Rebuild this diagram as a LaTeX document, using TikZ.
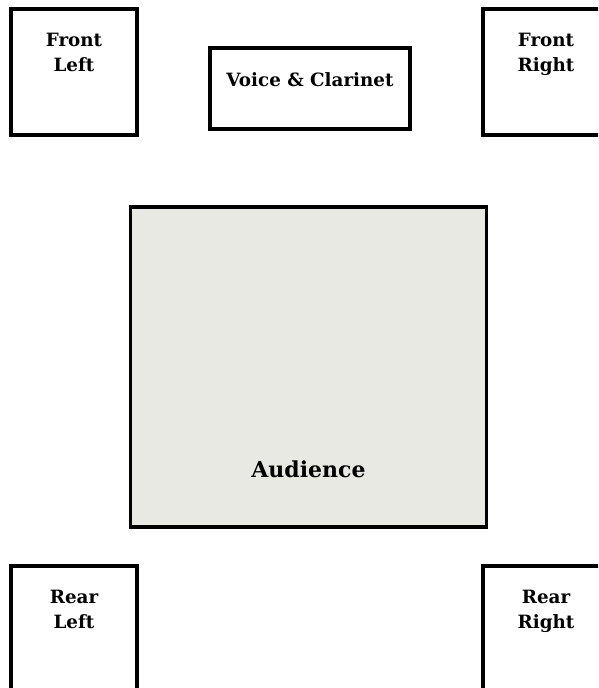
\documentclass[tikz,border=0pt]{standalone}
\usepackage{fontspec}
\setmainfont{DejaVu Serif}
\usepackage{xcolor}
\usepackage{tikz}
\usetikzlibrary{positioning}
\definecolor{audiencegray}{RGB}{233,233,228}

\begin{document}
\begin{tikzpicture}[x=1pt, y=-1pt,
        box/.style={draw, line width=3.4pt, inner sep=0pt},
        spk/.style={box, minimum width=126pt, minimum height=126pt},
        txt/.style={font=\bfseries\fontsize{18.3}{25}\selectfont, align=center, inner sep=0pt}]
        \clip (0,0) rectangle (598,688);

        % Lautsprecher vorne
        \node[spk] (fl) at (74,72) {};
        \node[txt, below=26pt of fl.north] (fltxt) {Front\\Left};
        \node[spk] (fr) at (546,72) {};
        \node[txt, below=26pt of fr.north] (frtxt) {Front\\Right};

        % Musiker
        \node[box, minimum width=200pt, minimum height=81pt] (vc) at (310,88.5) {};
        \node[txt, below=26pt of vc.north] (vctxt) {Voice \& Clarinet};

        % Publikum
        \node[box, fill=audiencegray, minimum width=356pt, minimum height=320pt] (aud) at (308.5,367) {};
        \node[txt, font=\bfseries\fontsize{22}{26}\selectfont, above=51pt of aud.south] (audtxt) {Audience};

        % Lautsprecher hinten
        \node[spk] (rl) at (74,629) {};
        \node[txt, below=26pt of rl.north] (rltxt) {Rear\\Left};
        \node[spk] (rr) at (546,629) {};
        \node[txt, below=26pt of rr.north] (rrtxt) {Rear\\Right};
    \end{tikzpicture}
\end{document}
